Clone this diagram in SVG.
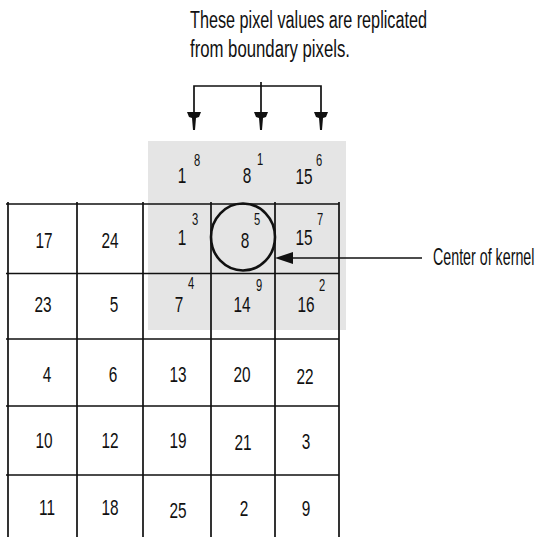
<svg xmlns="http://www.w3.org/2000/svg" width="551" height="537" viewBox="0 0 551 537">
<style>
.lbl{font-family:"Liberation Sans",Arial,sans-serif;font-size:23px;fill:#111}
.n{font-family:"Liberation Sans",Arial,sans-serif;font-size:22px;fill:#111;text-anchor:middle}
.s{font-family:"Liberation Sans",Arial,sans-serif;font-size:16px;fill:#111;text-anchor:middle}
.ln{stroke:#111;stroke-width:1.7;fill:none}
.ah{fill:#111}
</style>
<rect width="551" height="537" fill="#fff"/>
<g id="padding-region">
<rect x="148" y="141" width="198" height="189" fill="#e5e5e5"/>
</g>
<g id="grid" class="ln">
<path d="M6 204H339M6 273.5H339M6 339H339M6 406H339M6 475H339"/>
<path d="M8 202V537M77 202V537M143 202V537M211 202V537M275 202V537M339 202V537"/>
</g>
<g id="labels">
<text class="lbl" x="190" y="28" textLength="237" lengthAdjust="spacingAndGlyphs">These pixel values are replicated</text>
<text class="lbl" x="190" y="57" textLength="160" lengthAdjust="spacingAndGlyphs">from boundary pixels.</text>
<text class="lbl" transform="translate(433 265) scale(.62 1)">Center of kernel</text>
</g>
<g id="padded-row">
<text class="n" transform="translate(182 183) scale(.7 1)">1</text><text class="s" transform="translate(197 166) scale(.7 1)">8</text>
<text class="n" transform="translate(247 183) scale(.7 1)">8</text><text class="s" transform="translate(260 165) scale(.7 1)">1</text>
<text class="n" transform="translate(304 184) scale(.7 1)">15</text><text class="s" transform="translate(319 166) scale(.7 1)">6</text>
</g>
<g id="row1">
<text class="n" transform="translate(44 248) scale(.7 1)">17</text>
<text class="n" transform="translate(110 248) scale(.7 1)">24</text>
<text class="n" transform="translate(182 245) scale(.7 1)">1</text><text class="s" transform="translate(195 225) scale(.7 1)">3</text>
<text class="n" transform="translate(245 248) scale(.7 1)">8</text><text class="s" transform="translate(257 225) scale(.7 1)">5</text>
<text class="n" transform="translate(304 245) scale(.7 1)">15</text><text class="s" transform="translate(320 225) scale(.7 1)">7</text>
</g>
<g id="row2">
<text class="n" transform="translate(43 312) scale(.7 1)">23</text>
<text class="n" transform="translate(114 312) scale(.7 1)">5</text>
<text class="n" transform="translate(179 312) scale(.7 1)">7</text><text class="s" transform="translate(191 289) scale(.7 1)">4</text>
<text class="n" transform="translate(242 312) scale(.7 1)">14</text><text class="s" transform="translate(259 291) scale(.7 1)">9</text>
<text class="n" transform="translate(306 312) scale(.7 1)">16</text><text class="s" transform="translate(322 291) scale(.7 1)">2</text>
</g>
<g id="row3">
<text class="n" transform="translate(47 382) scale(.7 1)">4</text>
<text class="n" transform="translate(113 382) scale(.7 1)">6</text>
<text class="n" transform="translate(178 382) scale(.7 1)">13</text>
<text class="n" transform="translate(242 382) scale(.7 1)">20</text>
<text class="n" transform="translate(305 384) scale(.7 1)">22</text>
</g>
<g id="row4">
<text class="n" transform="translate(44 448) scale(.7 1)">10</text>
<text class="n" transform="translate(110 448) scale(.7 1)">12</text>
<text class="n" transform="translate(178 448) scale(.7 1)">19</text>
<text class="n" transform="translate(243 450) scale(.7 1)">21</text>
<text class="n" transform="translate(306 449) scale(.7 1)">3</text>
</g>
<g id="row5">
<text class="n" transform="translate(47 515) scale(.7 1)">11</text>
<text class="n" transform="translate(110 515) scale(.7 1)">18</text>
<text class="n" transform="translate(178 518) scale(.7 1)">25</text>
<text class="n" transform="translate(244 516) scale(.7 1)">2</text>
<text class="n" transform="translate(306 516) scale(.7 1)">9</text>
</g>
<g id="kernel-center">
<ellipse cx="243" cy="237" rx="32" ry="33.5" fill="none" stroke="#111" stroke-width="2.6"/>
</g>
<g id="connectors">
<path class="ln" d="M194 112V86H321V112M261 82V112"/>
<path class="ln" d="M422 258H290"/>
<polygon class="ah" points="275,258 293,252 293,264"/>
<polygon class="ah" points="187,112 201,112 199,117 196,118 195,130 193,130 192,118 189,117"/>
<polygon class="ah" points="254,112 268,112 266,117 263,118 262,130 260,130 259,118 256,117"/>
<polygon class="ah" points="314,112 328,112 326,117 323,118 322,130 320,130 319,118 316,117"/>
</g>
</svg>
